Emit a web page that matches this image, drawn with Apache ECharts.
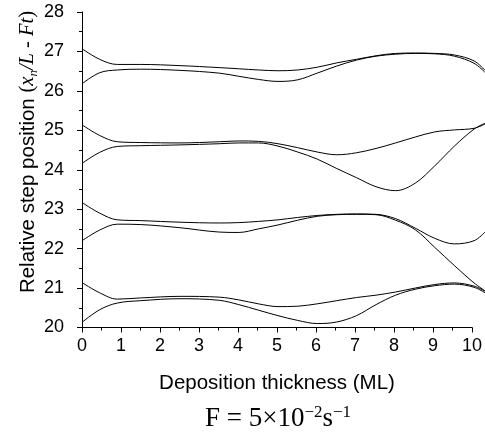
<!DOCTYPE html>
<html>
<head>
<meta charset="utf-8">
<script src="https://cdn.jsdelivr.net/npm/echarts@6/dist/echarts.min.js"></script>
<style>html,body{margin:0;padding:0;background:#fff}#c{width:485px;height:444px}</style>
</head>
<body>
<div id="c"></div>
<script>
const xs = [0, 0.45, 0.9, 1.5, 2.5, 3.5, 4, 4.5, 5, 5.5, 6, 6.5, 7, 7.5, 8, 8.5, 9, 9.5, 10, 10.28];
const stepA = [27.07, 26.8, 26.67, 26.67, 26.64, 26.59, 26.56, 26.53, 26.51, 26.53, 26.6, 26.71, 26.8, 26.89, 26.95, 26.96, 26.95, 26.91, 26.76, 26.52];
const stepB = [26.18, 26.46, 26.53, 26.55, 26.52, 26.45, 26.37, 26.29, 26.24, 26.28, 26.45, 26.63, 26.78, 26.88, 26.93, 26.95, 26.94, 26.88, 26.7, 26.47];
const stepC = [25.14, 24.87, 24.71, 24.69, 24.68, 24.71, 24.73, 24.72, 24.66, 24.56, 24.45, 24.38, 24.43, 24.54, 24.68, 24.83, 24.96, 25.01, 25.05, 25.16];
const stepD = [24.16, 24.44, 24.59, 24.61, 24.63, 24.66, 24.68, 24.68, 24.6, 24.45, 24.27, 24.03, 23.8, 23.57, 23.47, 23.66, 24.1, 24.6, 25.03, 25.18];
const stepE = [23.17, 22.9, 22.73, 22.71, 22.67, 22.65, 22.66, 22.69, 22.73, 22.79, 22.84, 22.87, 22.88, 22.87, 22.76, 22.52, 22.26, 22.12, 22.2, 22.42];
const stepF = [22.2, 22.47, 22.62, 22.61, 22.53, 22.42, 22.41, 22.5, 22.6, 22.72, 22.82, 22.86, 22.87, 22.86, 22.72, 22.48, 22.03, 21.57, 21.13, 20.93];
const stepG = [21.14, 20.88, 20.72, 20.75, 20.79, 20.77, 20.7, 20.6, 20.53, 20.54, 20.6, 20.68, 20.76, 20.82, 20.9, 21.0, 21.09, 21.13, 21.05, 20.92];
const stepH = [20.13, 20.45, 20.62, 20.68, 20.73, 20.69, 20.58, 20.44, 20.3, 20.18, 20.1, 20.14, 20.3, 20.58, 20.82, 20.97, 21.06, 21.1, 21.02, 20.88];
const allSteps = [stepA, stepB, stepC, stepD, stepE, stepF, stepG, stepH];
const xAxisTitle = 'Deposition thickness (ML)';
const yAxisTitle = 'Relative step position ';
const fluxLabel = ['F = 5×10', '−2', 's', '−1'];

const chart = echarts.init(document.getElementById('c'), null, {renderer: 'canvas'});
const sans = 'Liberation Sans, Arial, sans-serif';
const serif = 'Liberation Serif, Times New Roman, serif';
const TOP = 12, BOTTOM = 116.5, LEFT = 82;
chart.setOption({
  animation: false,
  backgroundColor: '#fff',
  grid: [
    {left: LEFT, right: 11, top: TOP, bottom: BOTTOM},
    {left: LEFT, right: 0, top: TOP, bottom: BOTTOM}
  ],
  xAxis: [{
    gridIndex: 0,
    type: 'value', min: 0, max: 10, interval: 1,
    name: xAxisTitle, nameLocation: 'middle', nameGap: 45,
    nameTextStyle: {fontFamily: sans, fontSize: 20.5, color: '#000'},
    axisLine: {lineStyle: {color: '#000', width: 1}},
    axisTick: {inside: false, length: 5, lineStyle: {color: '#000'}},
    minorTick: {show: true, splitNumber: 2, length: 3, lineStyle: {color: '#000'}},
    axisLabel: {fontFamily: sans, fontSize: 18, color: '#000', margin: 10},
    splitLine: {show: false}
  }, {
    gridIndex: 1, type: 'value', min: 0, max: 10.28, show: false, splitLine: {show: false}
  }],
  yAxis: [{
    gridIndex: 0,
    type: 'value', min: 20, max: 28, interval: 1,
    axisLine: {show: true, lineStyle: {color: '#000', width: 1}},
    axisTick: {show: true, inside: false, length: 5, lineStyle: {color: '#000'}},
    minorTick: {show: true, splitNumber: 2, length: 3, lineStyle: {color: '#000'}},
    axisLabel: {fontFamily: sans, fontSize: 18, color: '#000', margin: 18},
    splitLine: {show: false}
  }, {
    gridIndex: 1, type: 'value', min: 20, max: 28, show: false, splitLine: {show: false}
  }],
  graphic: [
    {
      type: 'text', x: 28, y: 152, rotation: Math.PI / 2,
      style: {
        text: '{a|' + yAxisTitle + '}{b|(}{c|x}{d|n}{c|/L - Ft}{b|)}',
        align: 'center', verticalAlign: 'middle',
        rich: {
          a: {fontFamily: sans, fontSize: 20.5, color: '#000', lineHeight: 24},
          b: {fontFamily: serif, fontSize: 20.5, color: '#000', lineHeight: 24},
          c: {fontFamily: serif, fontStyle: 'italic', fontSize: 20.5, color: '#000', lineHeight: 24},
          d: {fontFamily: serif, fontStyle: 'italic', fontSize: 13, color: '#000', lineHeight: 14, verticalAlign: 'bottom'}
        }
      }
    },
    {
      type: 'text', x: 278, y: 419,
      style: {
        text: '{a|' + fluxLabel[0] + '}{s|' + fluxLabel[1] + '}{a|' + fluxLabel[2] + '}{s|' + fluxLabel[3] + '}',
        align: 'center', verticalAlign: 'middle',
        rich: {
          a: {fontFamily: serif, fontSize: 27, color: '#000', lineHeight: 30},
          s: {fontFamily: serif, fontSize: 17, color: '#000', lineHeight: 18, verticalAlign: 'top'}
        }
      }
    }
  ],
  series: allSteps.map(ys => ({
    type: 'line',
    xAxisIndex: 1, yAxisIndex: 1,
    data: xs.map((x, i) => [x, ys[i]]),
    showSymbol: false,
    smooth: 0.35,
    clip: false,
    lineStyle: {color: '#000', width: 1}
  }))
});
</script>
</body>
</html>
